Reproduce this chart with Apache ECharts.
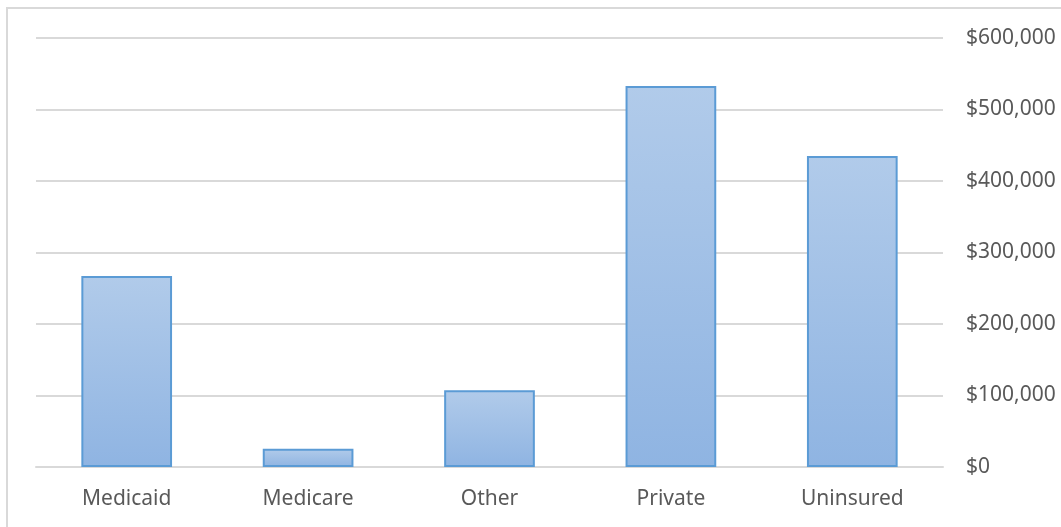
<!DOCTYPE html>
<html>
<head>
<meta charset="utf-8">
<script src="https://cdn.jsdelivr.net/npm/echarts@6/dist/echarts.min.js"></script>
<style>
html,body{margin:0;padding:0;background:#fff;}
#chart{width:1061px;height:527px;}
</style>
</head>
<body>
<div id="chart"></div>
<script>
const categories = ["Medicaid", "Medicare", "Other", "Private", "Uninsured"];
const values = [267000, 25500, 107500, 533000, 435000];
const yTicks = { min: 0, max: 600000, interval: 100000 };

const chart = echarts.init(document.getElementById('chart'), null, { renderer: 'canvas' });
const fmt = v => '$' + v.toLocaleString('en-US');
chart.setOption({
  animation: false,
  backgroundColor: '#ffffff',
  graphic: [{
    type: 'rect',
    shape: { x: 7, y: 8, width: 1100, height: 600 },
    style: { fill: 'none', stroke: '#d9d9d9', lineWidth: 2 },
    silent: true
  }],
  grid: { left: 36, right: 118, top: 38, bottom: 60, containLabel: false },
  xAxis: {
    type: 'category',
    data: categories,
    axisLine: { show: true, lineStyle: { color: '#d9d9d9', width: 2 } },
    axisTick: { show: false },
    axisLabel: { color: '#595959', fontFamily: 'Noto Sans', fontSize: 21, margin: 22 }
  },
  yAxis: {
    type: 'value',
    position: 'right',
    min: yTicks.min, max: yTicks.max, interval: yTicks.interval,
    axisLine: { show: false },
    axisTick: { show: false },
    splitLine: { lineStyle: { color: '#d9d9d9', width: 2 } },
    axisLabel: { color: '#595959', fontFamily: 'Noto Sans', fontSize: 21, margin: 23, formatter: fmt }
  },
  series: [{
    type: 'bar',
    data: values,
    barWidth: '50%',
    itemStyle: {
      color: new echarts.graphic.LinearGradient(0, 0, 0, 1, [
        { offset: 0, color: '#b1cbea' },
        { offset: 1, color: '#8fb4e2' }
      ]),
      borderColor: '#5b9bd5',
      borderWidth: 2
    }
  }]
});
</script>
</body>
</html>
